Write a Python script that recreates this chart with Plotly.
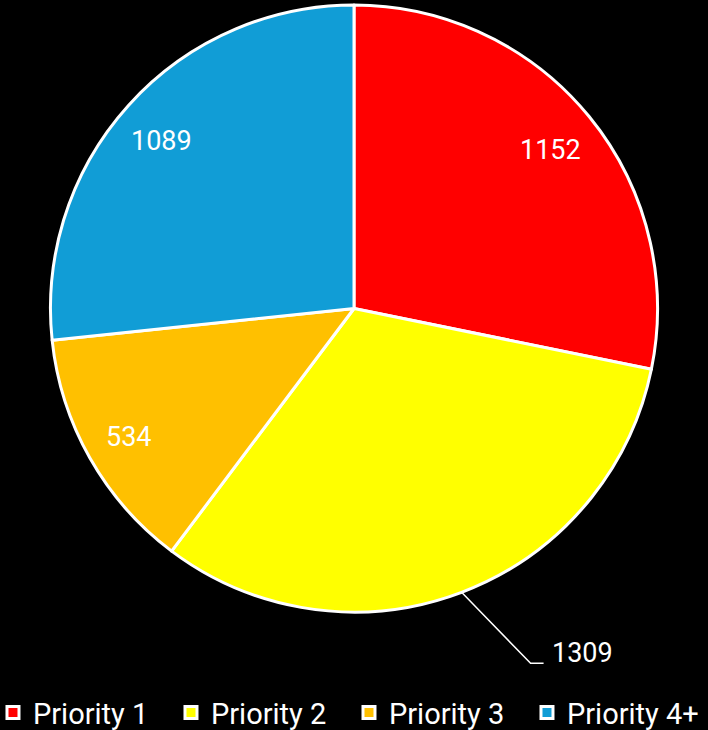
import math
import plotly.graph_objects as go

categories = ["Priority 1", "Priority 2", "Priority 3", "Priority 4+"]
values = [1152, 1309, 534, 1089]
colors = ["#FF0000", "#FFFF00", "#FFC000", "#119DD6"]
outside = [False, True, False, False]

W, H = 708, 730
dom_y = [0.1616, 0.9932]

fig = go.Figure(go.Pie(
    labels=categories,
    values=values,
    sort=False,
    direction="clockwise",
    rotation=0,
    marker=dict(colors=colors, line=dict(color="white", width=3)),
    textinfo="none",
    domain=dict(x=[0, 1], y=dom_y),
    hoverinfo="label+value",
))

# pie geometry in pixels (derived from domain)
cy_px = H * (1 - (dom_y[0] + dom_y[1]) / 2)
cx_px = W / 2
R = H * (dom_y[1] - dom_y[0]) / 2

def to_paper(x, y):
    return x / W, 1 - y / H

label_font = dict(color="white", size=27, family="Roboto")
total = sum(values)
cum = 0
annotations = []
shapes = []
for v, out in zip(values, outside):
    mid = (cum + v / 2) / total * 2 * math.pi
    cum += v
    dx, dy = math.sin(mid), -math.cos(mid)
    if not out:
        px, py = cx_px + 0.845 * R * dx - 2, cy_px + 0.84 * R * dy + 3
        xp, yp = to_paper(px, py)
        annotations.append(dict(x=xp, y=yp, xref="paper", yref="paper",
                                text=str(v), showarrow=False, font=label_font,
                                xanchor="center", yanchor="middle"))
    else:
        ex, ey = cx_px + R * dx, cy_px + R * dy
        kx, ky = ex + 69, ey + 71
        hx = kx + 13
        p0 = to_paper(ex, ey)
        p1 = to_paper(kx, ky)
        p2 = to_paper(hx, ky)
        shapes.append(dict(type="path", xref="paper", yref="paper",
                           path=f"M {p0[0]},{p0[1]} L {p1[0]},{p1[1]} L {p2[0]},{p2[1]}",
                           line=dict(color="white", width=1.5)))
        tx, ty = to_paper(hx + 6, ky - 10)
        annotations.append(dict(x=tx, y=ty, xref="paper", yref="paper",
                                text=str(v), showarrow=False, font=label_font,
                                xanchor="left", yanchor="middle"))

fig.update_layout(
    width=W, height=H,
    paper_bgcolor="black", plot_bgcolor="black",
    margin=dict(l=0, r=0, t=0, b=0, autoexpand=False),
    showlegend=True,
    annotations=annotations,
    shapes=shapes,
    legend=dict(
        orientation="h", x=-0.0099, y=-0.011, xanchor="left", yanchor="bottom",
        font=dict(color="white", size=29, family="Roboto"),
        entrywidth=133, entrywidthmode="pixels",
        bgcolor="rgba(0,0,0,0)",
    ),
)

fig.write_html("out.html", config={"displayModeBar": False})
with open("out.html", "r", encoding="utf-8") as f:
    html = f.read()
html = html.replace("<head>", "<head><style>html,body{margin:0;padding:0;background:black;overflow:hidden}</style>", 1)
with open("out.html", "w", encoding="utf-8") as f:
    f.write(html)
